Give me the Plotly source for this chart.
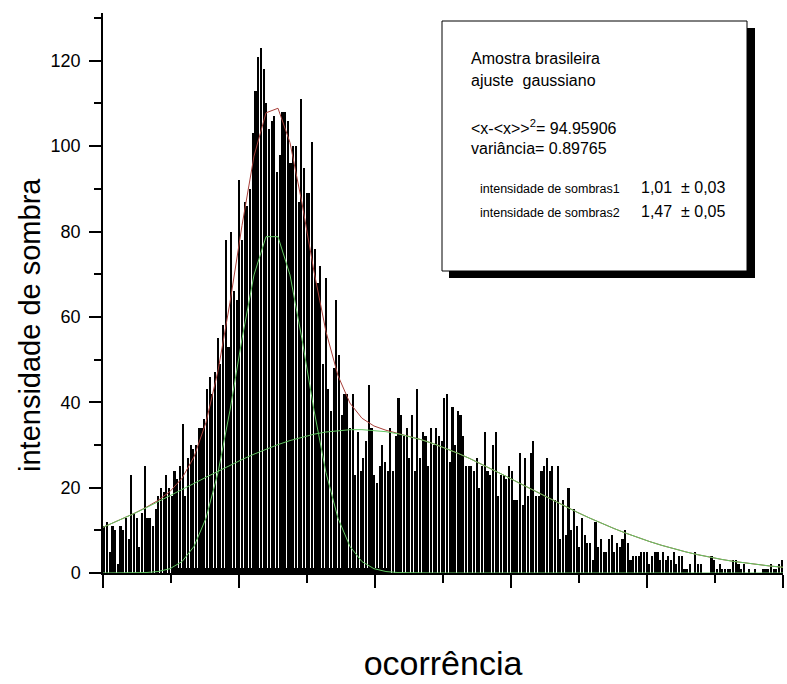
import numpy as np
import plotly.graph_objects as go

# histogram counts, one value per bin, left to right
contagens = [
    11, 12, 5, 11, 10, 2, 11, 10, 13, 8, 23, 14, 13, 6, 14, 25, 13, 13, 11, 15,
    18, 20, 19, 23, 20, 18, 24, 22, 25, 35, 18, 27, 30, 29, 30, 34, 34, 36, 43, 46,
    42,
    47, 55, 49, 58, 78, 53, 80, 66, 64, 92, 78, 87, 86, 90, 103, 113, 121, 123, 118,
    110, 104, 106, 107, 94, 98, 108, 108, 106, 96, 100, 100, 87, 111, 95, 89, 89, 101,
    76, 68, 72, 49, 69, 43,
    38, 48, 64, 51, 37, 42, 42, 34, 42, 23, 33, 24, 27, 31, 44, 34, 23, 21, 25, 30,
    26, 24, 34, 24, 32, 41, 37, 32, 34, 27, 37, 24, 43, 27, 33, 32, 25, 34, 30, 34,
    32, 31, 41, 42,
    26, 39, 30, 38, 37, 32, 25, 25, 25, 24, 27, 20, 25, 33, 24, 23, 30, 33, 18, 23,
    23, 22, 25, 24, 17, 17, 28, 16, 27, 18, 28, 31, 18, 18, 24, 25, 27, 24, 25, 17,
    25,
    8, 17, 9, 20, 10, 15, 11, 6, 13, 9, 7, 7, 3, 12, 6, 8, 5, 5, 8, 9,
    5, 7, 6, 8, 10, 7, 3, 4, 4, 4, 5, 5, 5, 2, 4, 5, 5, 3, 5, 3,
    4, 3, 5, 2, 4, 4,
    1, 1, 2, 0, 5, 2, 2, 0, 0, 0, 4, 3, 1, 2, 1, 1, 1, 1, 3, 3,
    2, 1, 2, 0, 1, 0, 1, 0, 0, 1, 1, 1, 2, 1, 1, 2, 3,
]

# low background band under the main peak: first bin and per-bin level
fundo_primeiro_bin = 27
fundo = [1.2] * 79

# gaussian fit parameters (amplitude, centre, width) in axis units
amplitudes = [80.0, 33.6]
centros = [1.2426, 1.8676]
sigmas = [0.2537, 1.235]
passo_ajuste = 0.0882

y_ticks = [0, 20, 40, 60, 80, 100, 120]
y_tick_text = ["0", "20", "40", "60", "80", "100", "120"]
x_ticks = [0, 1, 2, 3, 4, 5]

caixa_linhas = [
    "Amostra brasileira",
    "ajuste  gaussiano",
    "&lt;x-&lt;x&gt;&gt;<sup>2</sup>= 94.95906",
    "variância= 0.89765",
]
parametros_nomes = ["intensidade de sombras1", "intensidade de sombras2"]
parametros_valores = ["1,01  ± 0,03", "1,47  ± 0,05"]

FONT = "Liberation Sans, Arial, sans-serif"
W, H = 787, 684
L, R, T, B = 103, 4, 13, 111
X_MAX = 5.0
Y_MAX = 131.2

n = len(contagens)
w = X_MAX / n
x_bins = (np.arange(n) + 0.5) * w
x_fundo = (np.arange(len(fundo)) + fundo_primeiro_bin + 0.5) * w

# fit curves evaluated on a coarse grid, like the original fitting output
x_fit = centros[0] - passo_ajuste / 2 + passo_ajuste * np.arange(-15, 50)
x_fit = x_fit[(x_fit > 0) & (x_fit < X_MAX)]
x_fit = np.concatenate([[0.0], x_fit, [X_MAX]])


def gauss(x, a, c, s):
    return a * np.exp(-((x - c) ** 2) / (2 * s ** 2))


g1 = gauss(x_fit, amplitudes[0], centros[0], sigmas[0])
g2 = gauss(x_fit, amplitudes[1], centros[1], sigmas[1])
soma = g1 + g2

fig = go.Figure()
fig.add_trace(go.Bar(
    x=x_bins, y=contagens, width=w * 0.78,
    marker=dict(color="black", line=dict(width=0)),
    hoverinfo="x+y", showlegend=False,
))
fig.add_trace(go.Bar(
    x=x_fundo, y=fundo, width=w,
    marker=dict(color="black", line=dict(width=0)),
    hoverinfo="skip", showlegend=False,
))
fig.add_trace(go.Scatter(
    x=x_fit, y=soma, mode="lines",
    line=dict(color="#a8403a", width=1), showlegend=False,
))
for g in (g1, g2):
    fig.add_trace(go.Scatter(
        x=x_fit, y=g, mode="lines",
        line=dict(color="#62c862", width=1), showlegend=False,
    ))

pw = W - L - R
ph = H - T - B


def px(xp):
    return (xp - L) / pw


def py(yp):
    return (H - B - yp) / ph


# text box with drop shadow
fig.add_shape(type="rect", xref="paper", yref="paper",
              x0=px(449), x1=px(755), y0=py(278), y1=py(28),
              fillcolor="black", line=dict(width=0), layer="above")
fig.add_shape(type="rect", xref="paper", yref="paper",
              x0=px(442), x1=px(747), y0=py(271), y1=py(21),
              fillcolor="white", line=dict(color="black", width=1), layer="above")

anns = []
for txt, yy in zip(caixa_linhas, [58, 80, 127, 148]):
    anns.append(dict(text=txt, x=px(469), y=py(yy), xref="paper", yref="paper",
                     xanchor="left", yanchor="middle", showarrow=False,
                     font=dict(family=FONT, size=16, color="black")))
for nome, valor, yy in zip(parametros_nomes, parametros_valores, [189, 213]):
    anns.append(dict(text=nome, x=px(478), y=py(yy), xref="paper", yref="paper",
                     xanchor="left", yanchor="middle", showarrow=False,
                     font=dict(family=FONT, size=12.5, color="black")))
    anns.append(dict(text=valor, x=px(639), y=py(yy - 1.5), xref="paper", yref="paper",
                     xanchor="left", yanchor="middle", showarrow=False,
                     font=dict(family=FONT, size=16, color="black")))

# vertical axis title
anns.append(dict(text="intensidade de sombra", x=px(30), y=py(325),
                 xref="paper", yref="paper", xanchor="center", yanchor="middle",
                 textangle=-90, showarrow=False,
                 font=dict(family=FONT, size=29, color="black")))

fig.update_layout(
    width=W, height=H, autosize=False,
    margin=dict(l=L, r=R, t=T, b=B, pad=0),
    paper_bgcolor="white", plot_bgcolor="white",
    bargap=0, barmode="overlay",
    font=dict(family=FONT, color="black"),
    annotations=anns,
    xaxis=dict(
        range=[0, X_MAX], showgrid=False, zeroline=False,
        showline=True, linecolor="black", linewidth=2,
        ticks="outside", tickvals=x_ticks, ticklen=13, tickwidth=2, tickcolor="black",
        showticklabels=False,
        minor=dict(ticks="outside", dtick=0.5, tick0=0.5, ticklen=8, tickwidth=1.5,
                   tickcolor="black"),
        title=dict(text="ocorrência", font=dict(family=FONT, size=34), standoff=64),
        automargin=False,
    ),
    yaxis=dict(
        range=[0, Y_MAX], showgrid=False, zeroline=False,
        showline=True, linecolor="black", linewidth=1.5,
        ticks="outside", tickvals=y_ticks, ticktext=y_tick_text, ticklen=12,
        tickwidth=1.5, tickcolor="black", ticklabelstandoff=5,
        tickfont=dict(family=FONT, size=18),
        minor=dict(ticks="outside", dtick=20, tick0=10, ticklen=7, tickwidth=1.5,
                   tickcolor="black"),
        automargin=False,
    ),
)

fig.write_html("out.html")
